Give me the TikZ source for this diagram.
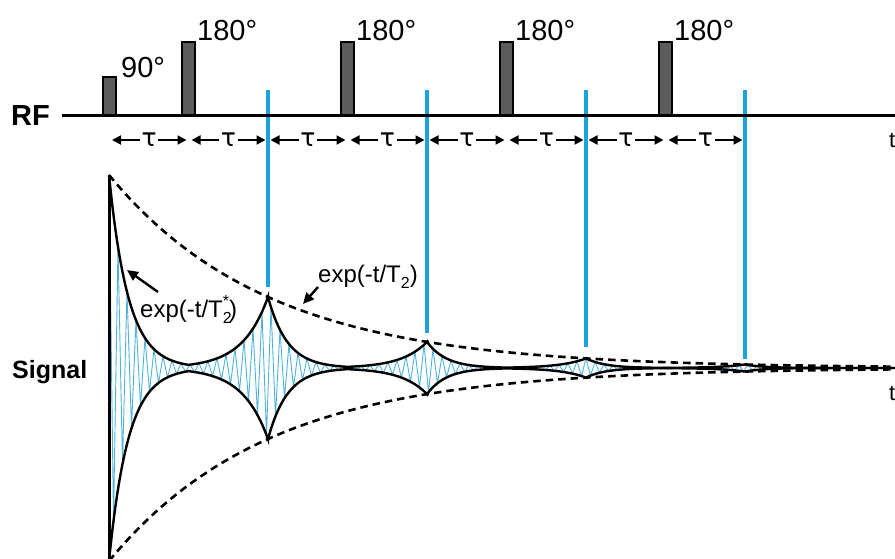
\documentclass[tikz,border=0pt]{standalone}
\usepackage{fontspec}
\setmainfont{Liberation Sans}
\newfontfamily\taufont{DejaVu Sans}
\usetikzlibrary{arrows.meta}
\definecolor{echoblue}{HTML}{1BA3DE}
\definecolor{zigblue}{HTML}{4DB3DC}
\definecolor{pulsegray}{HTML}{5C5C5C}
\newcommand\fs[1]{\fontsize{#1}{#1}\selectfont}
\newcommand\lowtwo{\raisebox{-0.28em}{\fs{16}2}}
\newcommand\twostar{\rlap{\raisebox{-0.28em}{\fs{16}2}}\raisebox{0.45em}{\fs{16}*}}
\begin{document}
\begin{tikzpicture}[x=1pt,y=-1pt,
  declare function={
    E(\t,\c)=193*exp(-\t/159)*exp(-abs(\t-\c)/22);
    M(\t)=193*exp(-\t/159)*exp(-min(\t,abs(\t-159),abs(\t-318),abs(\t-477),abs(\t-636))/22);
    D(\t)=193*exp(-\t/159);
  },
  pulse/.style={draw=black,line width=2.4pt,fill=pulsegray},
  env/.style={draw=black,line width=2.4pt},
  dashenv/.style={draw=black,line width=2.6pt,dash pattern=on 7.5pt off 5pt},
  zig/.style={draw=zigblue,line width=0.9pt},
  echoline/.style={draw=echoblue,line width=3.3pt},
  axis/.style={draw=black,line width=3pt},
  tau/.style={font=\taufont\fs{25},inner sep=1.5pt},
  tauarr/.style={line width=1.8pt,-{Triangle[length=9pt,width=9pt]}},
  lblarr/.style={line width=2.4pt,-{Triangle[length=11pt,width=10pt]}},
  lbl/.style={font=\fs{24},inner sep=0pt},
  deg/.style={font=\fs{29},inner sep=0pt,anchor=base west},
  bigbold/.style={font=\bfseries\fs{29},inner sep=0pt,anchor=base west},
]
\useasboundingbox (0,0) rectangle (895,558);

% zigzag signal
\draw[zig] plot[domain=0:174,samples=175] ({109+4.5*\x},{368-M(4.5*\x)*(1-2*mod(round(\x),2))});

% dashed T2 envelopes
\draw[dashenv] plot[domain=0:786,samples=120] ({109+\x},{368-D(\x)});
\draw[dashenv] plot[domain=0:786,samples=120] ({109+\x},{368+D(\x)});

% solid T2* envelopes
\foreach \s in {-1,1}{
\draw[env] plot[domain=0:79.5,samples=50] ({109+\x},{368-\s*E(\x,0)})
  -- plot[domain=79.5:159,samples=40] ({109+\x},{368-\s*E(\x,159)})
  -- plot[domain=159:238.5,samples=40] ({109+\x},{368-\s*E(\x,159)})
  -- plot[domain=238.5:318,samples=40] ({109+\x},{368-\s*E(\x,318)})
  -- plot[domain=318:397.5,samples=40] ({109+\x},{368-\s*E(\x,318)})
  -- plot[domain=397.5:477,samples=40] ({109+\x},{368-\s*E(\x,477)})
  -- plot[domain=477:556.5,samples=40] ({109+\x},{368-\s*E(\x,477)})
  -- plot[domain=556.5:636,samples=40] ({109+\x},{368-\s*E(\x,636)})
  -- plot[domain=636:786,samples=50] ({109+\x},{368-\s*E(\x,636)});
}

% signal axis
\coordinate (ax0) at (109,175);
\coordinate (ax1) at (109,560);
\draw[axis] (ax0) -- (ax1);

% echo markers
\foreach \x/\b [count=\i] in {268/287,427/333,586/347,745/359}{
  \coordinate (et\i) at (\x,90);
  \coordinate (eb\i) at (\x,\b);
  \draw[echoline] (et\i) -- (eb\i);
}

% RF line
\coordinate (rf0) at (62,115);
\coordinate (rf1) at (900,115);
\draw[axis] (rf0) -- (rf1);

% pulses
\draw[pulse] (103,115) rectangle (116,77);
\foreach \x in {182,341,500,659}{
  \draw[pulse] (\x,115) rectangle (\x+13,42);
}
\node[deg] (p90) at (121,77) {90°};
\node[deg] (p1) at (197,40) {180°};
\node[deg] (p2) at (356,40) {180°};
\node[deg] (p3) at (515,40) {180°};
\node[deg] (p4) at (674,40) {180°};

\node[bigbold] (rf) at (11,125) {RF};
\node[font=\bfseries\fs{25},inner sep=0pt,anchor=base west] (sig) at (12,378) {Signal};

% tau intervals
\foreach \a/\b [count=\i] in {109.5/189,189/268,268/348,348/427,427/507,507/586,586/666,666/745}{
  \coordinate (L\i) at (\a+2.5,140);
  \coordinate (R\i) at (\b-2.5,140);
  \node[tau] (tau\i) at ({(\a+\b)/2},140) {τ};
  \draw[tauarr] (tau\i) -- (L\i);
  \draw[tauarr] (tau\i) -- (R\i);
}

% labels
\node[lbl,anchor=base west] (l1) at (140,317) {exp(-t/T\twostar)};
\node[lbl,anchor=base west] (l2) at (318,282) {exp(-t/T\lowtwo)};
\coordinate (a1s) at (158,292);
\coordinate (a1e) at (127,270);
\coordinate (a2s) at (318,287);
\coordinate (a2e) at (303,304);
\draw[lblarr] (a1s) -- (a1e);
\draw[lblarr] (a2s) -- (a2e);

\node[font=\fs{22},inner sep=0pt,anchor=base west] (tA) at (889,147) {t};
\node[font=\fs{22},inner sep=0pt,anchor=base west] (tB) at (889,400) {t};
\end{tikzpicture}
\end{document}
